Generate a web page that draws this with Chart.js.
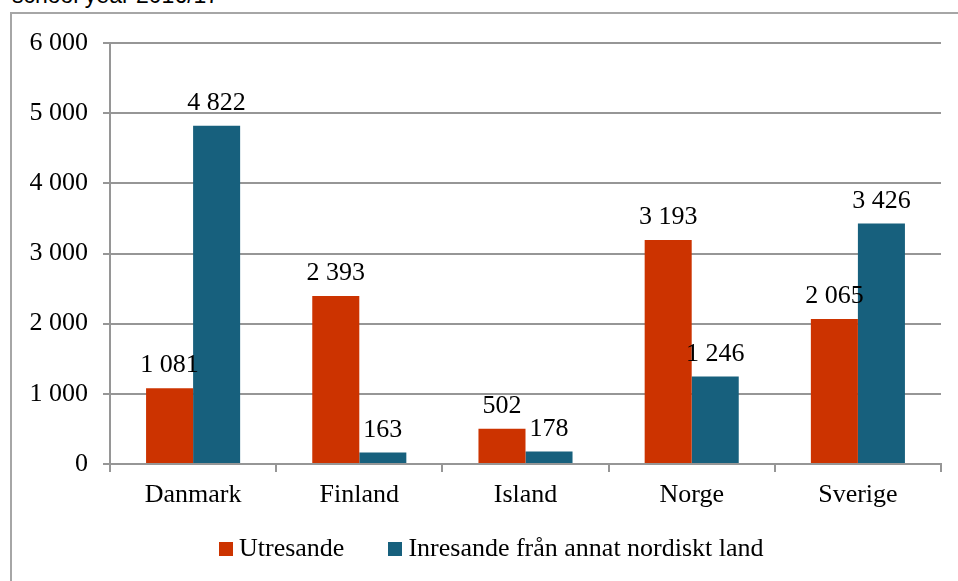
<!DOCTYPE html>
<html>
<head>
<meta charset="utf-8">
<script src="https://cdn.jsdelivr.net/npm/chart.js@4/dist/chart.umd.min.js"></script>
<style>
  body { margin: 0; background: #fff; overflow: hidden; }
  #wrap { position: relative; width: 958px; height: 581px; }
  #title { position: absolute; left: 12px; top: -16px; font: 23px "Liberation Sans", sans-serif; line-height: 23px; color: #000; white-space: nowrap; }
  #frame { position: absolute; left: 10px; top: 12px; width: 1000px; height: 1000px; border-left: 2px solid #a6a6a6; border-top: 2px solid #a6a6a6; }
  #chart { position: absolute; left: 0; top: 0; }
  #legend { position: absolute; left: 219px; top: 535px; font: 26px "Liberation Serif", serif; line-height: 26px; white-space: nowrap; }
  #legend .sw { display: inline-block; width: 14px; height: 14px; margin-right: 6px; }
  #legend .item { margin-right: 44px; }
</style>
</head>
<body>
<div id="wrap">
  <div id="title">school year 2016/17</div>
  <div id="frame"></div>
  <canvas id="chart" width="958" height="581"></canvas>
  <div id="legend"></div>
</div>
<script>
var countries = ['Danmark', 'Finland', 'Island', 'Norge', 'Sverige'];
var utresande = [1081, 2393, 502, 3193, 2065];
var inresande = [4822, 163, 178, 1246, 3426];
var seriesNames = ['Utresande', 'Inresande från annat nordiskt land'];
var seriesColors = ['#cc3300', '#17607d'];
var yTicks = [0, 1000, 2000, 3000, 4000, 5000, 6000];

function fmt(v) {
	return String(v).replace(/\B(?=(\d{3})+(?!\d))/g, ' ');
}

// html legend
var legend = document.querySelector('#legend');
seriesNames.forEach((name, i) => {
	var s = document.createElement('span');
	s.className = 'item';
	s.innerHTML = '<span class="sw" style="background:' + seriesColors[i] + '"></span>' + name;
	legend.appendChild(s);
});

// value labels above each bar
var barLabels = {
	id: 'barLabels',
	afterDatasetsDraw(chart) {
		var ctx = chart.ctx;
		ctx.save();
		ctx.font = '26px "Liberation Serif"';
		ctx.fillStyle = '#000';
		ctx.textAlign = 'center';
		ctx.textBaseline = 'alphabetic';
		chart.data.datasets.forEach((ds, i) => {
			chart.getDatasetMeta(i).data.forEach((bar, j) => {
				ctx.fillText(fmt(ds.data[j]), bar.x, bar.y - 16);
			});
		});
		ctx.restore();
	}
};

Chart.defaults.font.family = '"Liberation Serif", serif';
Chart.defaults.font.size = 26;
Chart.defaults.color = '#000';

var gridColor = '#969696';

new Chart(document.querySelector('#chart').getContext('2d'), {
	type: 'bar',
	data: {
		labels: countries,
		datasets: [{
			label: seriesNames[0],
			data: utresande,
			backgroundColor: seriesColors[0]
		}, {
			label: seriesNames[1],
			data: inresande,
			backgroundColor: seriesColors[1]
		}]
	},
	options: {
		responsive: false,
		animation: false,
		devicePixelRatio: 1,
		barPercentage: 1,
		categoryPercentage: 0.566,
		layout: { padding: { left: 0, top: 43, right: 17, bottom: 0 } },
		plugins: {
			legend: { display: false },
			tooltip: { enabled: false }
		},
		scales: {
			x: {
				grid: { display: true, drawOnChartArea: false, drawTicks: true, tickLength: 8, color: gridColor, lineWidth: 2, offset: true },
				border: { display: true, color: gridColor, width: 2 },
				ticks: { padding: 8, maxRotation: 0 },
				afterFit(scale) { scale.height = 581 - 464; }
			},
			y: {
				min: 0,
				max: 6000,
				afterBuildTicks(scale) { scale.ticks = yTicks.map(v => ({ value: v })); },
				grid: { color: gridColor, lineWidth: 2, tickLength: 7, drawTicks: true },
				border: { display: true, color: gridColor, width: 2 },
				ticks: { padding: 15, callback: v => fmt(v) },
				afterFit(scale) { scale.width = 110; }
			}
		}
	},
	plugins: [barLabels]
});
</script>
</body>
</html>
